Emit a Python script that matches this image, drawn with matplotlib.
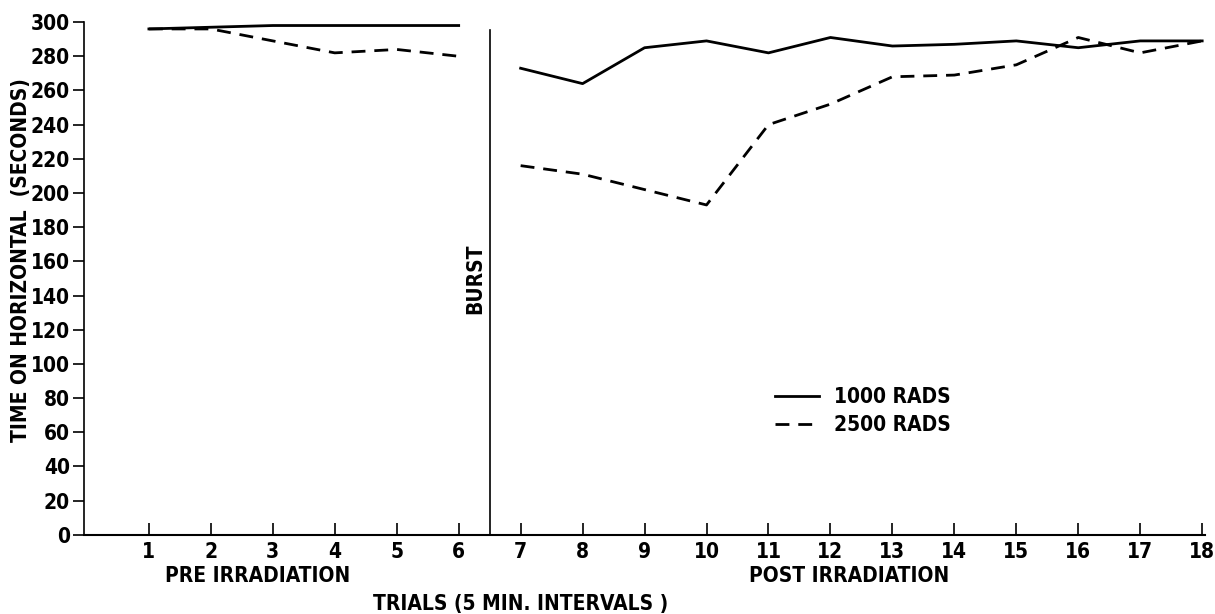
import numpy as np
import matplotlib
matplotlib.use('Agg')
import matplotlib.pyplot as plt

plt.rcParams['font.family'] = ['DejaVu Sans']
plt.rcParams['font.stretch'] = 'condensed'
plt.rcParams['font.weight'] = 'bold'
plt.rcParams['axes.labelweight'] = 'bold'

# Data
trials = list(range(1, 19))
pre_trials = [1, 2, 3, 4, 5, 6]
post_trials = [7, 8, 9, 10, 11, 12, 13, 14, 15, 16, 17, 18]

rads1000_pre = [296, 297, 298, 298, 298, 298]
rads2500_pre = [296, 296, 289, 282, 284, 280]
rads1000_post = [273, 264, 285, 289, 282, 291, 286, 287, 289, 285, 289, 289]
rads2500_post = [216, 211, 202, 193, 240, 252, 268, 269, 275, 291, 282, 289]

yticks = list(range(0, 301, 20))
burst_x = 6.5
fs = 15

fig = plt.figure(figsize=(12.15, 6.14), dpi=100)
ax = fig.add_axes([0.069, 0.129, 0.923, 0.835])

dash = (0, (5, 3.2))
ax.plot(pre_trials, rads1000_pre, color='black', lw=2.0)
ax.plot(pre_trials, rads2500_pre, color='black', lw=2.0, linestyle=dash)
ax.plot(post_trials, rads1000_post, color='black', lw=2.0, label='1000 RADS')
ax.plot(post_trials, rads2500_post, color='black', lw=2.0, linestyle=dash, label='2500 RADS')

ax.axvline(burst_x, color='black', lw=1.2, ymax=0.985)
ax.text(burst_x - 0.07, 150, 'BURST', rotation=90, ha='right', va='center', fontsize=fs)

ax.set_xlim(-0.05, 18.05)
ax.set_ylim(0, 300)
ax.set_xticks(trials)
ax.set_yticks(yticks)
ax.tick_params(axis='x', direction='in', length=9, width=1.2, labelsize=fs, pad=5)
ax.tick_params(axis='y', direction='out', length=8, width=1.2, labelsize=fs, pad=2)

for s in ['top', 'right']:
    ax.spines[s].set_visible(False)
ax.spines['left'].set_linewidth(1.2)
ax.spines['bottom'].set_linewidth(1.5)

ax.set_ylabel('TIME ON HORIZONTAL  (SECONDS)', fontsize=fs)
ax.yaxis.set_label_coords(-0.047, 0.535)
ax.text(2.75, -0.08, 'PRE IRRADIATION', transform=ax.get_xaxis_transform(),
        ha='center', va='center', fontsize=fs)
ax.text(12.3, -0.08, 'POST IRRADIATION', transform=ax.get_xaxis_transform(),
        ha='center', va='center', fontsize=fs)
ax.text(7.0, -0.135, 'TRIALS (5 MIN. INTERVALS )', transform=ax.get_xaxis_transform(),
        ha='center', va='center', fontsize=fs)

leg = ax.legend(loc='upper left', bbox_to_anchor=(0.6, 0.325), frameon=False,
                fontsize=fs, handlelength=2.1, handletextpad=0.7, labelspacing=0.4)

fig.savefig('out.png', dpi=100)
